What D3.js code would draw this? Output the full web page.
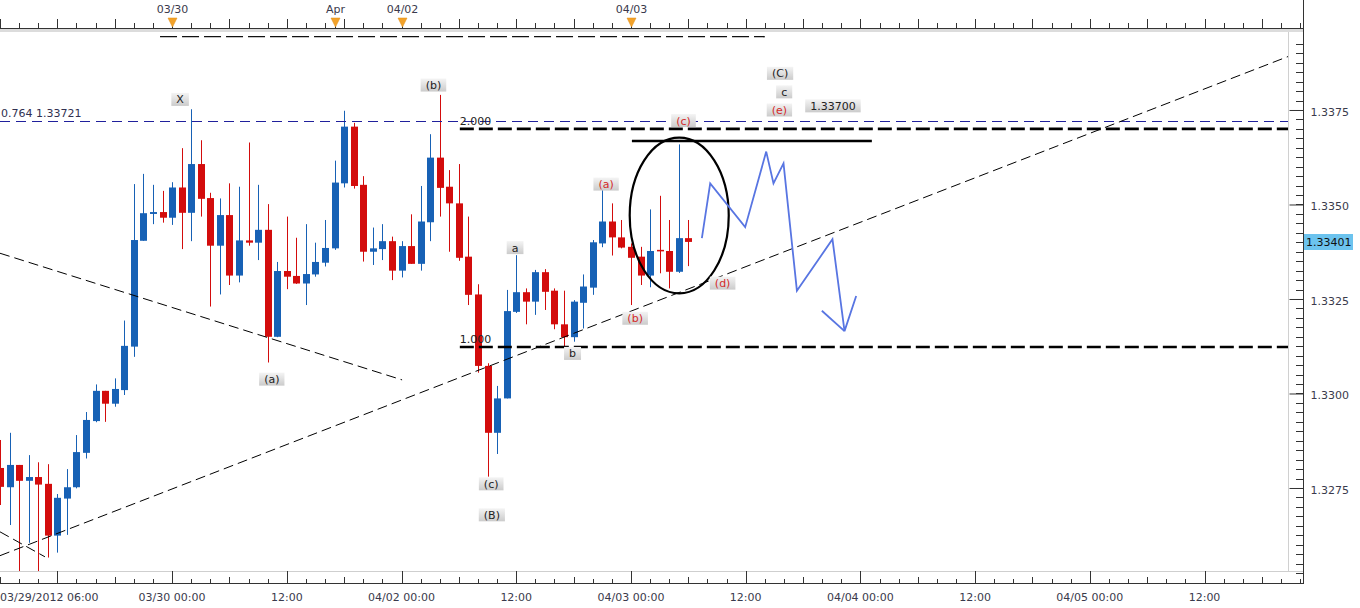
<!DOCTYPE html>
<html><head><meta charset="utf-8">
<script src="https://cdn.jsdelivr.net/npm/d3@7"></script>
<style>html,body{margin:0;padding:0;background:#fff;}svg{display:block;font-family:"DejaVu Sans",Verdana,sans-serif;}</style>
</head><body>
<svg id="c" width="1360" height="608"></svg>
<script>
// ---------------- DATA ----------------
const firstIndex = -18; // candle index of first bar (hourly bars, 0 = 03/30 00:00)
const open = [1.32803,1.32752,1.32811,1.32769,1.32779,1.32761,1.32624,1.32722,1.32752,1.32843,1.32927,1.33007,1.32973,1.33009,1.33124,1.33404,1.33475,1.33480,
  1.33465,1.33545,1.33478,1.33607,1.33517,1.33391,1.33472,1.33312,1.33405,1.33399,1.33433,1.33150,1.33324,1.33311,1.33291,1.33315,1.33346,1.33384,1.33556,1.33706,1.33552,1.33375,1.33382,1.33403,
  1.33325,1.33390,1.33343,1.33453,1.33624,1.33547,1.33503,1.33362,1.33262,1.33073,1.32896,1.32987,1.33216,1.33268,1.33243,1.33321,1.33272,1.33183,1.33149,1.33240,1.33280,1.33397,1.33455,1.33413,
  1.33388,1.33362,1.33312,1.33380,1.33377,1.33322,1.33411];
const high = [1.32877,1.32896,1.32811,1.32837,1.32818,1.32813,1.32734,1.32800,1.32890,1.32951,1.33024,1.33007,1.33040,1.33193,1.33554,1.33581,1.33552,1.33536,
  1.33559,1.33649,1.33752,1.33670,1.33531,1.33516,1.33556,1.33547,1.33664,1.33552,1.33501,1.33348,1.33468,1.33412,1.33448,1.33399,1.33459,1.33616,1.33748,1.33716,1.33575,1.33439,1.33448,1.33415,
  1.33403,1.33474,1.33549,1.33686,1.33790,1.33591,1.33607,1.33468,1.33289,1.33080,1.33020,1.33274,1.33366,1.33278,1.33327,1.33329,1.33278,1.33272,1.33247,1.33315,1.33406,1.33543,1.33503,1.33459,
  1.33397,1.33388,1.33487,1.33523,1.33459,1.33659,1.33459];
const low = [1.32705,1.32652,1.32520,1.32605,1.32520,1.32566,1.32579,1.32626,1.32749,1.32828,1.32924,1.32925,1.32965,1.32996,1.33097,1.33404,1.33448,1.33452,
  1.33446,1.33382,1.33403,1.33468,1.33230,1.33262,1.33287,1.33294,1.33391,1.33353,1.33082,1.33149,1.33276,1.33290,1.33234,1.33309,1.33336,1.33380,1.33545,1.33542,1.33349,1.33340,1.33353,1.33300,
  1.33307,1.33343,1.33325,1.33403,1.33468,1.33375,1.33351,1.33234,1.33055,1.32780,1.32840,1.32987,1.33213,1.33183,1.33208,1.33221,1.33170,1.33124,1.33137,1.33172,1.33261,1.33387,1.33365,1.33384,
  1.33234,1.33287,1.33281,1.33318,1.33278,1.33319,1.33337];
const close = [1.32753,1.32811,1.32769,1.32779,1.32759,1.32624,1.32724,1.32752,1.32845,1.32930,1.33007,1.32973,1.33012,1.33126,1.33406,1.33477,1.33480,1.33465,
  1.33545,1.33478,1.33607,1.33515,1.33391,1.33472,1.33312,1.33405,1.33399,1.33433,1.33150,1.33324,1.33309,1.33291,1.33316,1.33348,1.33385,1.33558,1.33706,1.33549,1.33375,1.33384,1.33403,1.33325,
  1.33390,1.33343,1.33455,1.33624,1.33544,1.33503,1.33359,1.33261,1.33073,1.32896,1.32987,1.33218,1.33268,1.33243,1.33321,1.33269,1.33183,1.33149,1.33243,1.33283,1.33400,1.33455,1.33413,1.33386,
  1.33359,1.33312,1.33377,1.33376,1.33322,1.33411,1.33401];

const bottomTickIdx = [-12,0,12,24,36,48,60,72,84,96,108];
const bottomTickLabels = ["03/29/2012 06:00","03/30 00:00","12:00","04/02 00:00","12:00","04/03 00:00","12:00","04/04 00:00","12:00","04/05 00:00","12:00"];
const topMarkerIdx = [0,17,24,48];
const topMarkerLabels = ["03/30","Apr","04/02","04/03"];
const priceTicks = [1.3275,1.3300,1.3325,1.3350,1.3375];
const lastPrice = 1.33401;

const fibRetrace = {p:1.33721, label:"0.764 1.33721"};
const extLevels = [{p:1.33700, label:"2.000", from:30.1},{p:1.33123, label:"1.000", from:30.1}];
const topDashed = {i1:-1.26, i2:62.0, p:1.33944};
const solidLevel = {i1:48.1, i2:73.2, p:1.33668};
const trendLines = [
  {i1:-18, p1:1.32571, i2:117.0, p2:1.33894},
  {i1:-18, p1:1.33371, i2:24.06, p2:1.33036},
  {i1:-18, p1:1.32634, i2:-13.3, p2:1.32568}
];
const ellipseMark = {i:53.05, p:1.33471, di:5.18, dp:0.00206};
const projIdx = [55.42,56.29,59.95,62.15,62.91,63.96,65.36,69.08,70.34,71.56];
const projPrice = [1.33411,1.33556,1.33440,1.33640,1.33556,1.33609,1.33272,1.33408,1.33165,1.33258];
const arrowIdx = [67.97,70.34];
const arrowPrice = [1.33219,1.33165];

const waveLabels = ["X","(a)","(b)","a","b","(c)","(B)","(a)","(b)","(c)","(d)","(e)","(C)","c","1.33700"];
const waveIdx    = [0.84,10.43,27.34,35.88,41.89,33.38,33.45,45.4,48.44,53.5,57.59,63.53,63.6,64.03,69.13];
const wavePrice  = [1.33778,1.33038,1.33816,1.33386,1.33106,1.32761,1.32679,1.33554,1.33199,1.33722,1.33292,1.33750,1.33847,1.33798,1.33761];
const waveRed    = [0,0,0,0,0,0,0,1,1,1,1,1,0,0,0];

// ---------------- CHART ----------------
const svg = d3.select("#c");
const PL=0, PR=1288, PT=32, PB=571, AX=1303, ABOT=583, ATOP=28;
const x = d3.scaleLinear().domain([-18,118.3]).range([0,1303]);
const y = d3.scaleLinear().domain([1.325066,1.339537]).range([580,33]);
const BLUE="#1761b5", RED="#d30c0c", AXC="#3a3a4c";

const defs = svg.append("defs");
defs.append("clipPath").attr("id","clip").append("rect").attr("x",PL).attr("y",PT).attr("width",PR-PL).attr("height",PB-PT);
const gr = defs.append("linearGradient").attr("id","lbl").attr("x1",0).attr("y1",0).attr("x2",0).attr("y2",1);
gr.append("stop").attr("offset","0%").attr("stop-color","#f4f4f4");
gr.append("stop").attr("offset","100%").attr("stop-color","#cbcbcb");

svg.append("rect").attr("width",1360).attr("height",608).attr("fill","#fff");

// ----- axes frame -----
svg.append("rect").attr("x",0).attr("y",ATOP+1).attr("width",AX).attr("height",3).attr("fill","#dcdcdc");
svg.append("line").attr("x1",0).attr("x2",AX).attr("y1",ATOP+0.5).attr("y2",ATOP+0.5).attr("stroke","#333");
const topMinor = d3.range(-18,119,2);
svg.append("g").selectAll("line").data(topMinor).join("line")
  .attr("x1",d=>Math.round(x(d))+0.5).attr("x2",d=>Math.round(x(d))+0.5)
  .attr("y1",d=> (d%6===0)? ATOP-9 : ATOP-5).attr("y2",ATOP)
  .attr("stroke","#333");
const tm = svg.append("g").selectAll("g").data(topMarkerIdx).join("g")
  .attr("transform",d=>`translate(${Math.round(x(d))+0.5},0)`);
tm.append("line").attr("y1",ATOP-10).attr("y2",ATOP).attr("stroke","#333");
tm.append("path").attr("d","M-4.5,18 L4.5,18 L0,27 Z").attr("fill","#f2a22a").attr("stroke","#e08a10").attr("stroke-width",0.5);
tm.append("text").text((d,k)=>topMarkerLabels[k]).attr("y",13).attr("text-anchor","middle")
  .attr("font-size",11).attr("fill",AXC);

svg.append("line").attr("x1",0).attr("x2",AX).attr("y1",PB+0.5).attr("y2",PB+0.5).attr("stroke","#cfcfcf");
svg.append("line").attr("x1",0).attr("x2",AX).attr("y1",ABOT+0.5).attr("y2",ABOT+0.5).attr("stroke","#333");
const botMinor = d3.range(-18,119,2);
svg.append("g").selectAll("line").data(botMinor).join("line")
  .attr("x1",d=>Math.round(x(d))+0.5).attr("x2",d=>Math.round(x(d))+0.5)
  .attr("y1",d=> (d%12===0)? PB : (d%6===0? ABOT-6: ABOT-4)).attr("y2",ABOT)
  .attr("stroke","#333");
svg.append("g").selectAll("text").data(bottomTickIdx).join("text")
  .text((d,k)=>bottomTickLabels[k])
  .attr("x",(d,k)=> k===0 ? 0 : x(d))
  .attr("text-anchor",(d,k)=> k===0 ? "start":"middle")
  .attr("y",601).attr("font-size",11).attr("fill",AXC);

svg.append("line").attr("x1",PR+0.5).attr("x2",PR+0.5).attr("y1",PT).attr("y2",PB).attr("stroke","#d0d0d0");
const minorP = d3.range(1.32525,1.3395,0.00025);
svg.append("g").selectAll("line").data(minorP).join("line")
  .attr("x1",AX-7).attr("x2",AX).attr("y1",d=>Math.round(y(d))+0.5).attr("y2",d=>Math.round(y(d))+0.5)
  .attr("stroke","#333");
const ra = svg.append("g").attr("transform",`translate(${AX+0.5},0)`)
  .call(d3.axisRight(y).tickValues(priceTicks).tickSize(-14).tickPadding(7).tickFormat(d3.format(".4f")));
ra.select(".domain").remove();
ra.selectAll(".tick line").attr("stroke","#333");
ra.selectAll(".tick text").attr("font-size",11).attr("fill",AXC).attr("font-family","DejaVu Sans, Verdana, sans-serif").attr("dy","0.5em");
svg.append("line").attr("x1",AX+0.5).attr("x2",AX+0.5).attr("y1",0).attr("y2",ABOT+1).attr("stroke","#333");
const lp = svg.append("g").attr("transform",`translate(${AX+1},${Math.round(y(lastPrice))})`);
lp.append("rect").attr("x",0).attr("y",-8).attr("width",49).attr("height",16).attr("fill","#6cc3ee");
lp.append("text").text(d3.format(".5f")(lastPrice)).attr("x",2).attr("y",4).attr("font-size",11).attr("fill","#111");

// ----- plot -----
const pg = svg.append("g").attr("clip-path","url(#clip)");

const candles = open.map((o,k)=>({i:firstIndex+k,o:o,h:high[k],l:low[k],c:close[k]}));
const cg = pg.append("g");
cg.selectAll("line").data(candles).join("line")
  .attr("x1",d=>Math.round(x(d.i))+0.5).attr("x2",d=>Math.round(x(d.i))+0.5)
  .attr("y1",d=>y(d.h)).attr("y2",d=>y(d.l))
  .attr("stroke",d=>d.c>=d.o?BLUE:RED).attr("stroke-width",1);
cg.selectAll("rect").data(candles).join("rect")
  .attr("x",d=>Math.round(x(d.i))-3).attr("width",7)
  .attr("y",d=>y(Math.max(d.o,d.c))).attr("height",d=>Math.max(1.2,Math.abs(y(d.o)-y(d.c))))
  .attr("fill",d=>d.c>=d.o?BLUE:RED);

pg.append("line").attr("x1",PL).attr("x2",PR).attr("y1",Math.round(y(fibRetrace.p))+0.5).attr("y2",Math.round(y(fibRetrace.p))+0.5)
  .attr("stroke","#20209c").attr("stroke-width",1).attr("stroke-dasharray","10,6");
svg.append("text").text(fibRetrace.label).attr("x",1).attr("y",y(fibRetrace.p)-4).attr("font-size",11).attr("fill","#303050");

extLevels.forEach(L=>{
  pg.append("line").attr("x1",x(L.from)).attr("x2",PR).attr("y1",y(L.p)).attr("y2",y(L.p))
    .attr("stroke","#000").attr("stroke-width",2.6).attr("stroke-dasharray","14,5");
  svg.append("text").text(L.label).attr("x",x(L.from)).attr("y",y(L.p)-4).attr("font-size",11).attr("fill","#222");
});

svg.append("line").attr("x1",x(topDashed.i1)).attr("x2",x(topDashed.i2)).attr("y1",y(topDashed.p)).attr("y2",y(topDashed.p))
  .attr("stroke","#111").attr("stroke-width",1.4).attr("stroke-dasharray","17,5");

pg.append("line").attr("x1",x(solidLevel.i1)).attr("x2",x(solidLevel.i2)).attr("y1",y(solidLevel.p)).attr("y2",y(solidLevel.p))
  .attr("stroke","#000").attr("stroke-width",2.4);

pg.append("g").selectAll("line").data(trendLines).join("line")
  .attr("x1",d=>x(d.i1)).attr("y1",d=>y(d.p1)).attr("x2",d=>x(d.i2)).attr("y2",d=>y(d.p2))
  .attr("stroke","#000").attr("stroke-width",1).attr("stroke-dasharray","10,5");

pg.append("ellipse").attr("cx",x(ellipseMark.i)).attr("cy",y(ellipseMark.p))
  .attr("rx",x(ellipseMark.i+ellipseMark.di)-x(ellipseMark.i))
  .attr("ry",y(ellipseMark.p)-y(ellipseMark.p+ellipseMark.dp))
  .attr("fill","none").attr("stroke","#000").attr("stroke-width",2.2);

const ln = d3.line().x(d=>x(d[0])).y(d=>y(d[1]));
pg.append("path").attr("d",ln(d3.zip(projIdx,projPrice))).attr("fill","none").attr("stroke","#5875e2").attr("stroke-width",1.8).attr("stroke-linejoin","miter");
pg.append("path").attr("d",ln(d3.zip(arrowIdx,arrowPrice))).attr("fill","none").attr("stroke","#5875e2").attr("stroke-width",1.8);

const wl = svg.append("g").selectAll("g").data(waveLabels.map((t,k)=>({t,i:waveIdx[k],p:wavePrice[k],red:waveRed[k]})))
  .join("g").attr("transform",d=>`translate(${x(d.i)},${y(d.p)})`);
wl.append("rect").attr("fill","url(#lbl)");
wl.append("text").text(d=>d.t).attr("text-anchor","middle").attr("y",4).attr("font-size",11)
  .attr("fill",d=>d.red?"#d42a2a":"#222");
wl.each(function(){
  const g = d3.select(this);
  const w = g.select("text").node().getComputedTextLength();
  g.select("rect").attr("x",-w/2-5).attr("y",-6.5).attr("width",w+10).attr("height",13);
});
</script>
</body></html>
